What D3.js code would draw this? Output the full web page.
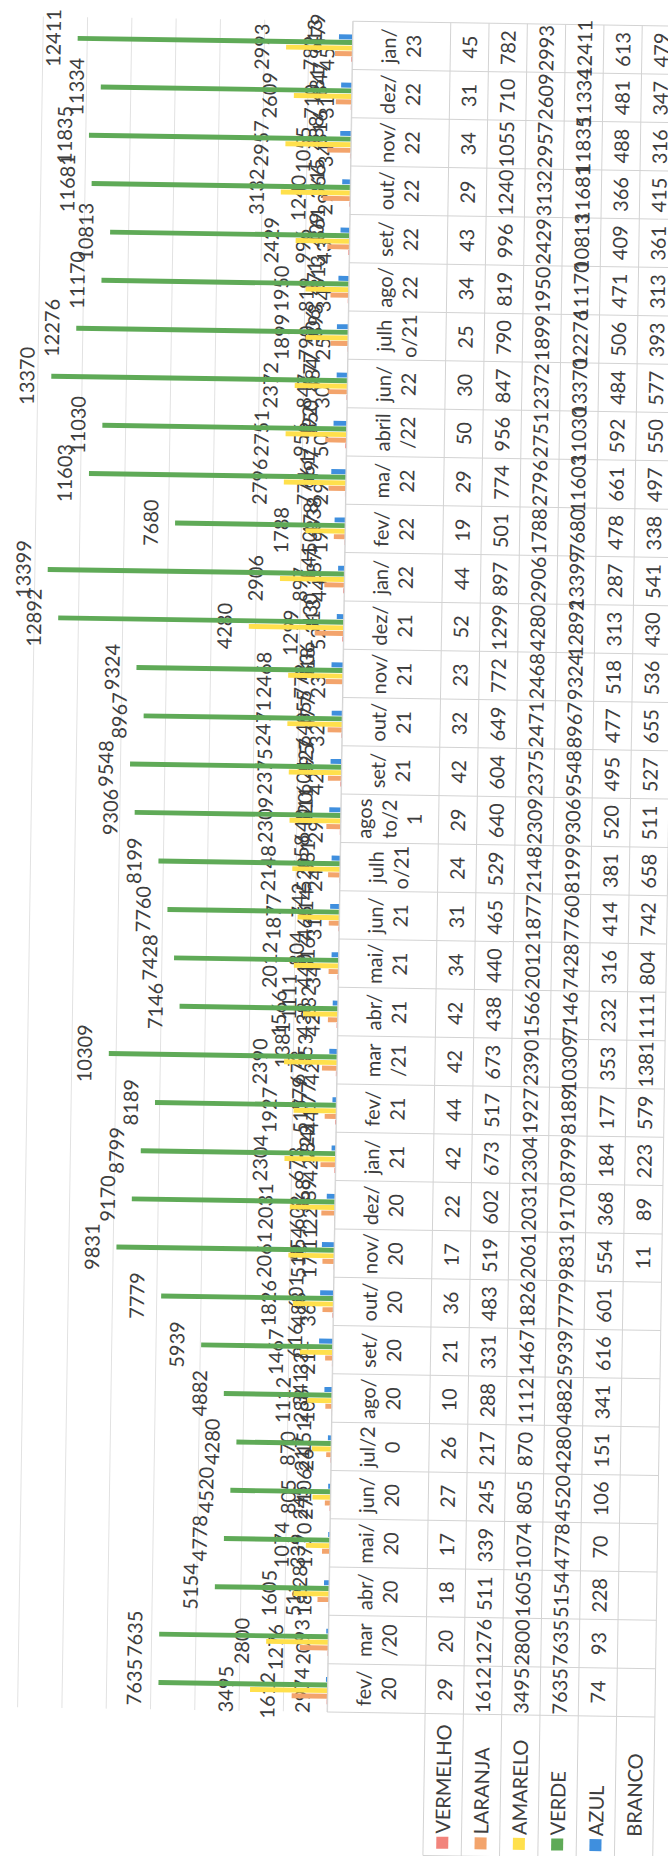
<!DOCTYPE html>
<html><head><meta charset="utf-8">
<script src="https://cdn.jsdelivr.net/npm/d3@7/dist/d3.min.js"></script>
<style>html,body{margin:0;padding:0;background:#fff;}svg{display:block;}</style>
</head><body>
<svg id="c" width="668" height="1856"></svg>
<script>
// ---- data ----
const months = ["fev/\n20","mar\n/20","abr/\n20","mai/\n20","jun/\n20","jul/2\n0","ago/\n20","set/\n20","out/\n20","nov/\n20","dez/\n20","jan/\n21","fev/\n21","mar\n/21","abr/\n21","mai/\n21","jun/\n21","julh\no/21","agos\nto/2\n1","set/\n21","out/\n21","nov/\n21","dez/\n21","jan/\n22","fev/\n22","ma/\n22","abril\n/22","jun/\n22","julh\no/21","ago/\n22","set/\n22","out/\n22","nov/\n22","dez/\n22","jan/\n23"];
const seriesNames = ["VERMELHO","LARANJA","AMARELO","VERDE","AZUL","BRANCO"];
const seriesColors = ["#f2847c","#f3a46c","#ffe04c","#5faa57","#3f8fde","#ffffff"];
const vermelho = [29,20,18,17,27,26,10,21,36,17,22,42,44,42,42,34,31,24,29,42,32,23,52,44,19,29,50,30,25,34,43,29,34,31,45];
const laranja = [1612,1276,511,339,245,217,288,331,483,519,602,673,517,673,438,440,465,529,640,604,649,772,1299,897,501,774,956,847,790,819,996,1240,1055,710,782];
const amarelo = [3495,2800,1605,1074,805,870,1112,1467,1826,2061,2031,2304,1927,2390,1566,2012,1877,2148,2309,2375,2471,2468,4280,2906,1788,2796,2751,2372,1899,1950,2429,3132,2957,2609,2993];
const verde = [7635,7635,5154,4778,4520,4280,4882,5939,7779,9831,9170,8799,8189,10309,7146,7428,7760,8199,9306,9548,8967,9324,12892,13399,7680,11603,11030,13370,12276,11170,10813,11681,11835,11334,12411];
const azul = [74,93,228,70,106,151,341,616,601,554,368,184,177,353,232,316,414,381,520,495,477,518,313,287,478,661,592,484,506,471,409,366,488,481,613];
const branco = [null,null,null,null,null,null,null,null,null,11,89,223,579,1381,1111,804,742,658,511,527,655,536,430,541,338,497,550,577,393,313,361,415,316,347,479];
const gridTicks = [0,2000,4000,6000,8000,10000,12000,14000];

const seriesValues = [vermelho, laranja, amarelo, verde, azul, branco];

// ---- layout (unrotated frame: u along months, v downward) ----
const W = 1856;
const font = "Lato, 'Open Sans', sans-serif";
const txt = "#3e3e3e";
const svg = d3.select("#c");
const root = svg.append("g").attr("transform", "rotate(0.87,334,928)")
  .append("g").attr("transform", `translate(0,${W}) rotate(-90)`);

const u0 = 144, u1 = 1835;
const x0 = d3.scaleBand().domain(d3.range(months.length)).range([u0, u1]).padding(0);
const step = x0.step();
const inner = 33.6;
const x1 = d3.scaleBand().domain(seriesNames)
  .range([(step - inner) / 2, (step + inner) / 2]).paddingInner(0.12).paddingOuter(0.06);
const y = d3.scaleLinear().domain([0, 14000]).range([339, 29]);

// gridlines
const gridAxis = d3.axisLeft(y).tickValues(gridTicks).tickSize(-(u1 - u0)).tickFormat("");
const gg = root.append("g").attr("transform", `translate(${u0},0)`).call(gridAxis);
gg.select(".domain").remove();
gg.selectAll(".tick line").attr("stroke", "#e2e2e2").attr("stroke-width", 1);

// labels (drawn below bars)
const labelG = root.append("g");
seriesNames.forEach((s, si) => {
  const vals = seriesValues[si];
  labelG.selectAll(null).data(vals.map((v, i) => ({v, i})).filter(d => d.v != null))
    .enter().append("text")
    .attr("x", d => x0(d.i) + x1(s) + x1.bandwidth() / 2)
    .attr("y", d => y(d.v) - 17)
    .attr("text-anchor", "middle")
    .attr("font-family", font).attr("font-size", 20).attr("fill", txt)
    .text(d => d.v);
});

// bars
seriesNames.forEach((s, si) => {
  const vals = seriesValues[si];
  root.append("g").selectAll("rect")
    .data(vals.map((v, i) => ({v, i})).filter(d => d.v != null))
    .enter().append("rect")
    .attr("x", d => x0(d.i) + x1(s))
    .attr("width", x1.bandwidth())
    .attr("y", d => y(d.v))
    .attr("height", d => y(0) - y(d.v))
    .attr("fill", seriesColors[si]);
});

// ---- data table ----
const vTop = 339, vHead = 437, rowH = 38.3;
const rowTop = i => vHead + i * rowH;
const vBottom = rowTop(seriesNames.length);
const tg = root.append("g");
const lineCol = "#d3d3d3";
tg.selectAll(".ms").data(d3.range(months.length + 1)).enter().append("line")
  .attr("x1", i => u0 + i * step).attr("x2", i => u0 + i * step)
  .attr("y1", vTop).attr("y2", vBottom)
  .attr("stroke", lineCol).attr("stroke-width", 1);
tg.append("line").attr("x1", u0).attr("x2", u1).attr("y1", vTop).attr("y2", vTop)
  .attr("stroke", lineCol);
tg.selectAll(".rs").data(d3.range(seriesNames.length + 1)).enter().append("line")
  .attr("x1", 2).attr("x2", u1)
  .attr("y1", i => rowTop(i)).attr("y2", i => rowTop(i))
  .attr("stroke", lineCol);
tg.append("line").attr("x1", 2).attr("x2", 2).attr("y1", vHead).attr("y2", vBottom).attr("stroke", lineCol);

const headG = tg.selectAll(".hd").data(months).enter().append("text")
  .attr("font-family", font).attr("font-size", 20).attr("fill", txt)
  .attr("text-anchor", "middle");
headG.each(function(m, i) {
  const lines = m.split("\n");
  const n = lines.length;
  const mid = (vTop + vHead) / 2;
  d3.select(this).selectAll("tspan").data(lines).enter().append("tspan")
    .attr("x", x0(i) + step / 2)
    .attr("y", (l, k) => mid + 7 + (k - (n - 1) / 2) * 25)
    .text(l => l);
});

seriesNames.forEach((s, si) => {
  const vals = seriesValues[si];
  tg.append("g").selectAll("text")
    .data(vals.map((v, i) => ({v, i})).filter(d => d.v != null))
    .enter().append("text")
    .attr("x", d => x0(d.i) + step / 2)
    .attr("y", rowTop(si) + rowH / 2 + 7.5)
    .attr("text-anchor", "middle")
    .attr("font-family", font).attr("font-size", 20).attr("fill", txt)
    .text(d => d.v);
});

seriesNames.forEach((s, si) => {
  const cy = rowTop(si) + rowH / 2;
  tg.append("rect").attr("x", 9).attr("y", cy - 6).attr("width", 12).attr("height", 12)
    .attr("fill", seriesColors[si]);
  tg.append("text").attr("x", 24).attr("y", cy + 7.5)
    .attr("font-family", font).attr("font-size", 20).attr("fill", txt)
    .text(s);
});
</script>
</body></html>
